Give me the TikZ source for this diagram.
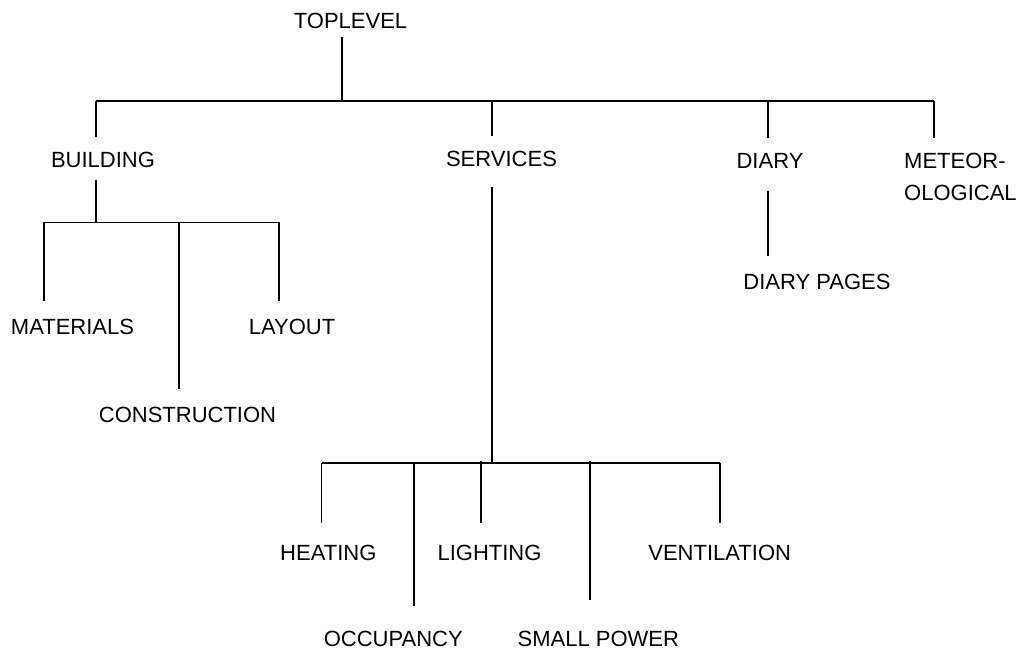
\documentclass[tikz,border=0pt]{standalone}
\usepackage{fontspec}
\setmainfont{Liberation Sans}
\begin{document}
\begin{tikzpicture}[x=1pt,y=-1pt,
  lbl/.style={inner sep=0pt,text height=15.75pt,text depth=0pt,font=\fontsize{22}{32}\selectfont},
  conn/.style={line width=1.8pt,black},
  thin conn/.style={line width=1.2pt,black}]
\useasboundingbox[fill=white] (0,0) rectangle (1026,652);
% labels
\node[lbl] (top) at (350.5,21) {TOPLEVEL};
\node[lbl] (bld) at (103,160) {BUILDING};
\node[lbl] (srv) at (501.5,159) {SERVICES};
\node[lbl] (dia) at (770,161) {DIARY};
\node[lbl,anchor=base west,align=left] (met) at (904,201) {METEOR-\\OLOGICAL};
\node[lbl] (dpg) at (817,281.5) {DIARY PAGES};
\node[lbl] (mat) at (72.5,326.7) {MATERIALS};
\node[lbl] (lay) at (292,326.7) {LAYOUT};
\node[lbl] (con) at (187.5,415) {CONSTRUCTION};
\node[lbl] (hea) at (328.3,552.3) {HEATING};
\node[lbl] (lig) at (489.5,552.3) {LIGHTING};
\node[lbl] (ven) at (719.7,552.3) {VENTILATION};
\node[lbl] (occ) at (393.3,638.7) {OCCUPANCY};
\node[lbl] (smp) at (598.3,638.7) {SMALL POWER};
% junction coordinates
\coordinate (top-s) at (342,37);
\coordinate (j0) at (342,101);
\coordinate (b0l) at (96,101);
\coordinate (b0r) at (934,101);
\coordinate (bld-n) at (96,137);
\coordinate (j0s) at (492,101);
\coordinate (srv-n) at (492,136);
\coordinate (j0d) at (768,101);
\coordinate (dia-n) at (768,138);
\coordinate (met-n) at (934,138);
\coordinate (bld-s) at (96,180);
\coordinate (j1) at (96,222.5);
\coordinate (b1l) at (44,222.5);
\coordinate (b1c) at (179,222.5);
\coordinate (b1r) at (279,222.5);
\coordinate (mat-n) at (44,301);
\coordinate (con-n) at (179,389);
\coordinate (lay-n) at (279,301);
\coordinate (dia-s) at (768,191);
\coordinate (dpg-n) at (768,256);
\coordinate (srv-s) at (492,187);
\coordinate (j2) at (492,463);
\coordinate (b2l) at (321.5,463);
\coordinate (b2o) at (414,462);
\coordinate (b2li) at (481,461);
\coordinate (b2sp) at (590,461);
\coordinate (b2r) at (720,463);
\coordinate (hea-n) at (321.5,523);
\coordinate (occ-n) at (414,606);
\coordinate (lig-n) at (481,523);
\coordinate (smp-n) at (590,599.5);
\coordinate (ven-n) at (720,523);
% connectors
\draw[conn] (top-s) -- (j0);
\draw[conn] (b0l) -- (b0r);
\draw[conn] (b0l) -- (bld-n);
\draw[conn] (j0s) -- (srv-n);
\draw[conn] (j0d) -- (dia-n);
\draw[conn] (b0r) -- (met-n);
\draw[conn] (bld-s) -- (j1);
\draw[conn] (b1l) -- (b1r);
\draw[conn] (b1l) -- (mat-n);
\draw[conn] (b1c) -- (con-n);
\draw[conn] (b1r) -- (lay-n);
\draw[conn] (dia-s) -- (dpg-n);
\draw[conn] (srv-s) -- (j2);
\draw[conn] (b2l) -- (b2r);
\draw[conn] (b2l) -- (hea-n);
\draw[thin conn] (b2o) -- (occ-n);
\draw[conn] (b2li) -- (lig-n);
\draw[conn] (b2sp) -- (smp-n);
\draw[conn] (b2r) -- (ven-n);
\end{tikzpicture}
\end{document}
